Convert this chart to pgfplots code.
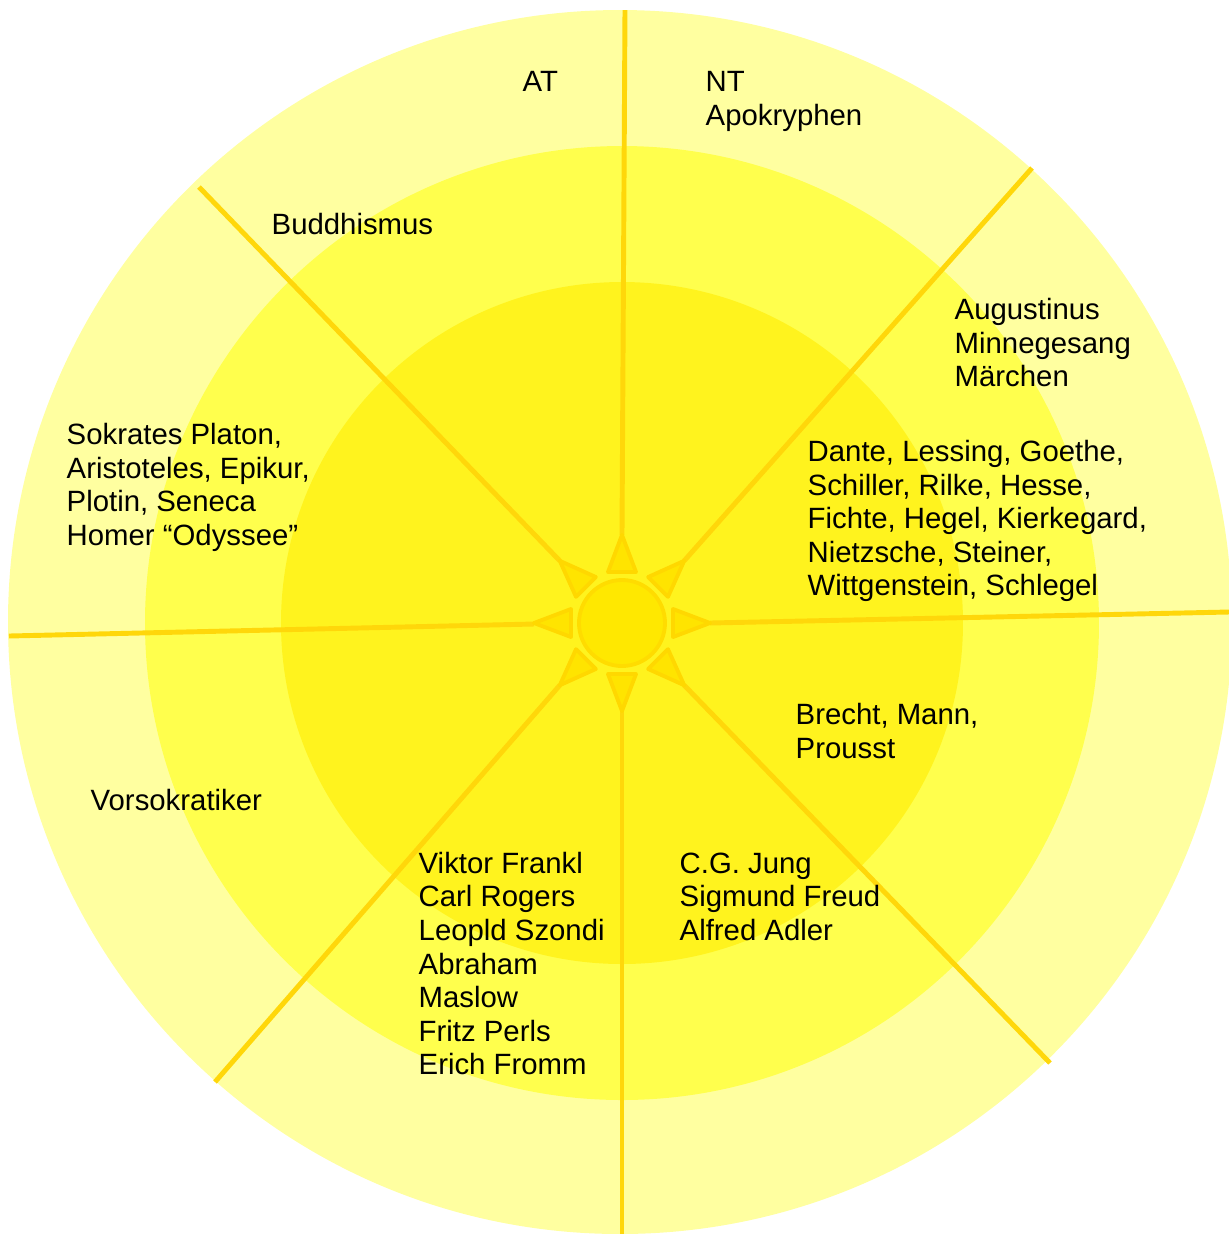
\documentclass[border=0pt]{standalone}
\usepackage{pgfplots}
\pgfplotsset{compat=1.18}
\usepackage{fontspec}
\setmainfont{Liberation Sans}
\definecolor{outerY}{HTML}{FFFFA0}
\definecolor{midY}{HTML}{FFFF4D}
\definecolor{innerY}{HTML}{FFF31E}
\definecolor{lineY}{HTML}{FFD70A}
\definecolor{sunY}{HTML}{FFE800}
\definecolor{sunB}{HTML}{FFDC00}
\definecolor{triY}{HTML}{FFE400}
\definecolor{triB}{HTML}{FFD800}
\newcommand\lbl{\fontsize{8.35}{9.6}\selectfont}
\newcommand\T[3]{\node[anchor=base west,inner sep=0pt,font=\lbl,text=black] at (axis cs:#1,#2) {#3};}
\begin{document}
\begin{tikzpicture}
\begin{axis}[
  scale only axis, width=12.29cm, height=12.34cm,
  xmin=0, xmax=1229, ymin=0, ymax=1234, y dir=reverse,
  hide axis, clip=true]
% rings
\fill[outerY] (axis cs:620,622) circle [radius=6.12cm];
\fill[midY] (axis cs:622,623) circle [radius=4.77cm];
\fill[innerY] (axis cs:622,623) circle [radius=3.41cm];
% spokes
\addplot[lineY, line width=1.4pt] coordinates {(625,10) (622,535)};
\addplot[lineY, line width=1.4pt] coordinates {(622,711) (622,1234)};
\addplot[lineY, line width=1.4pt] coordinates {(9,636) (534,624)};
\addplot[lineY, line width=1.4pt] coordinates {(710,623) (1229,612)};
\addplot[lineY, line width=1.4pt] coordinates {(199,187) (560,561)};
\addplot[lineY, line width=1.4pt] coordinates {(1032,168) (684,561)};
\addplot[lineY, line width=1.4pt] coordinates {(684,685) (1050,1063)};
\addplot[lineY, line width=1.4pt] coordinates {(560,685) (215,1082)};
% sun rays
\pgfplotsset{tri/.style={fill=triY, draw=triB, line width=1.1pt, line join=round}}
\addplot[tri] coordinates {(622,535) (636,572) (608,572)} --cycle;
\addplot[tri] coordinates {(684.2,560.8) (668.0,596.8) (648.2,577.0)} --cycle;
\addplot[tri] coordinates {(710,623) (673,637) (673,609)} --cycle;
\addplot[tri] coordinates {(684.2,685.2) (648.2,669.0) (668.0,649.2)} --cycle;
\addplot[tri] coordinates {(622,711) (608,674) (636,674)} --cycle;
\addplot[tri] coordinates {(559.8,685.2) (576.0,649.2) (595.8,669.0)} --cycle;
\addplot[tri] coordinates {(534,623) (571,609) (571,637)} --cycle;
\addplot[tri] coordinates {(559.8,560.8) (595.8,577.0) (576.0,596.8)} --cycle;
% sun
\filldraw[fill=sunY, draw=sunB, line width=1.1pt] (axis cs:622,623) circle [radius=0.43cm];
% labels
\T{522}{91}{AT}
\T{705}{91}{NT}
\T{705}{125}{Apokryphen}
\T{271}{234.5}{Buddhismus}
\T{954}{319.5}{Augustinus}
\T{954}{353}{Minnegesang}
\T{954}{386.7}{Märchen}
\T{66}{444.5}{Sokrates Platon,}
\T{66}{478.1}{Aristoteles, Epikur,}
\T{66}{511.7}{Plotin, Seneca}
\T{66}{545.3}{Homer “Odyssee”}
\T{807}{461.5}{Dante, Lessing, Goethe,}
\T{807}{495.1}{Schiller, Rilke, Hesse,}
\T{807}{528.7}{Fichte, Hegel, Kierkegard,}
\T{807}{562.3}{Nietzsche, Steiner,}
\T{807}{595.9}{Wittgenstein, Schlegel}
\T{795}{724.5}{Brecht, Mann,}
\T{795}{758.1}{Prousst}
\T{90}{810.5}{Vorsokratiker}
\T{418}{873.3}{Viktor Frankl}
\T{418}{906.9}{Carl Rogers}
\T{418}{940.5}{Leopld Szondi}
\T{418}{974.1}{Abraham}
\T{418}{1007.7}{Maslow}
\T{418}{1041.3}{Fritz Perls}
\T{418}{1074.9}{Erich Fromm}
\T{679}{873.3}{C.G. Jung}
\T{679}{906.9}{Sigmund Freud}
\T{679}{940.5}{Alfred Adler}
\end{axis}
\pgfresetboundingbox
\path (current axis.south west) rectangle (current axis.north east);
\end{tikzpicture}
\end{document}
